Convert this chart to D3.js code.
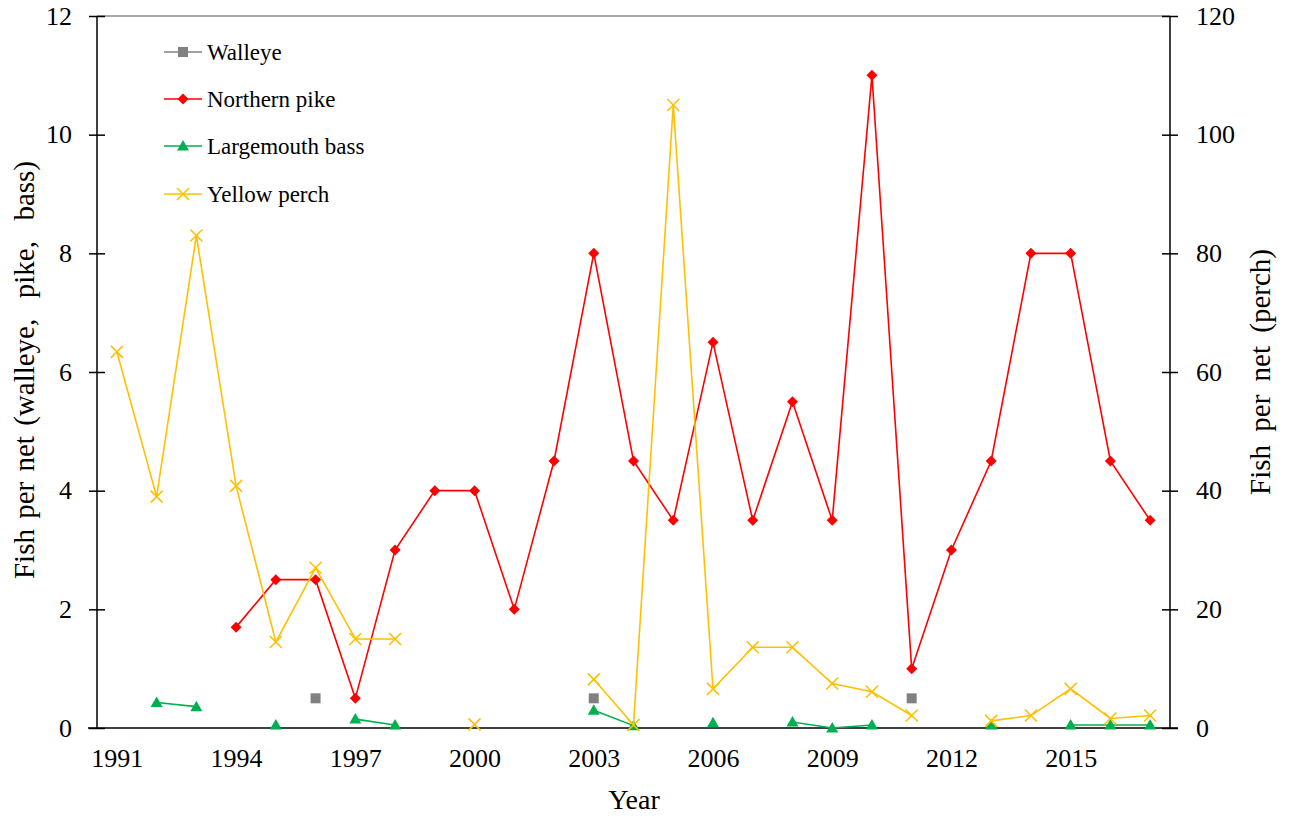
<!DOCTYPE html>
<html>
<head>
<meta charset="utf-8">
<script src="https://cdn.jsdelivr.net/npm/d3@7/dist/d3.min.js"></script>
<style>
  html, body { margin: 0; padding: 0; background: #fff; }
  svg { display: block; }
  svg text { font-family: "Times New Roman", "Liberation Serif", serif !important; fill: #000; }
</style>
</head>
<body>
<svg id="chart" width="1293" height="816" font-family="'Times New Roman', 'Liberation Serif', serif"></svg>
<script>
// ---- data ----
const years = d3.range(1991, 2018);
const xTickYears = [1991, 1994, 1997, 2000, 2003, 2006, 2009, 2012, 2015];
const leftTicks = [0, 2, 4, 6, 8, 10, 12];
const rightTicks = [0, 20, 40, 60, 80, 100, 120];
//               1991  1992  1993  1994  1995  1996  1997  1998  1999  2000  2001  2002  2003  2004  2005  2006  2007  2008  2009  2010  2011  2012  2013  2014  2015  2016  2017
const walleye = [null, null, null, null, null, 0.5,  null, null, null, null, null, null, 0.5,  null, null, null, null, null, null, null, 0.5,  null, null, null, null, null, null];
const pike    = [null, null, null, 1.7,  2.5,  2.5,  0.5,  3.0,  4.0,  4.0,  2.0,  4.5,  8.0,  4.5,  3.5,  6.5,  3.5,  5.5,  3.5,  11.0, 1.0,  3.0,  4.5,  8.0,  8.0,  4.5,  3.5];
const bass    = [null, 0.43, 0.36, null, 0.05, null, 0.15, 0.05, null, null, null, null, 0.3,  0.04, null, 0.09, null, 0.1,  0.0,  0.05, null, null, 0.05, null, 0.05, 0.05, 0.05];
const perch   = [63.4, 39.0, 83.0, 40.8, 14.5, 27.0, 15.0, 15.0, null, 0.6,  null, null, 8.2,  0.5,  105,  6.6,  13.6, 13.6, 7.5,  6.1,  2.1,  null, 1.2,  2.1,  6.6,  1.6,  2.1];
const seriesNames = ["Walleye", "Northern pike", "Largemouth bass", "Yellow perch"];

// ---- layout ----
const FONT = "'Times New Roman', 'Liberation Serif', serif";
const svg = d3.select("#chart");
const L = 97, R = 1170, T = 16, B = 728;
const x = d3.scaleLinear().domain([1990.5, 2017.5]).range([L, R]);
const yL = d3.scaleLinear().domain([0, 12]).range([B, T]);
const yR = d3.scaleLinear().domain([0, 120]).range([B, T]);

const series = [
  { name: seriesNames[0], values: walleye, color: "#808080", scale: yL, marker: "square" },
  { name: seriesNames[1], values: pike,    color: "#FF0000", scale: yL, marker: "diamond" },
  { name: seriesNames[2], values: bass,    color: "#00B050", scale: yL, marker: "triangle" },
  { name: seriesNames[3], values: perch,   color: "#FFC000", scale: yR, marker: "x" }
];

// top border
svg.append("line").attr("x1", L).attr("x2", R).attr("y1", T).attr("y2", T)
  .attr("stroke", "#8c8c8c").attr("stroke-width", 1.5);

function styleAxis(g) {
  g.attr("font-family", FONT);
  g.selectAll(".tick text").attr("font-family", FONT).style("font-size", "26px");
}

// left axis
const gL = svg.append("g").attr("transform", `translate(${L},0)`)
  .call(d3.axisLeft(yL).tickValues(leftTicks).tickFormat(d3.format("d")).tickSize(8).tickPadding(17));
gL.select(".domain").attr("stroke", "#000").attr("stroke-width", 1.5).attr("d", `M0,${T}V${B}`);
gL.selectAll(".tick line").attr("x1", -8).attr("x2", 8).attr("stroke", "#000").attr("stroke-width", 1.5);
styleAxis(gL);

// right axis
const gR = svg.append("g").attr("transform", `translate(${R},0)`)
  .call(d3.axisRight(yR).tickValues(rightTicks).tickFormat(d3.format("d")).tickSize(8).tickPadding(18));
gR.select(".domain").attr("stroke", "#000").attr("stroke-width", 1.5).attr("d", `M0,${T}V${B}`);
gR.selectAll(".tick line").attr("x1", -8).attr("x2", 8).attr("stroke", "#000").attr("stroke-width", 1.5);
styleAxis(gR);

// bottom axis
const gB = svg.append("g").attr("transform", `translate(0,${B})`)
  .call(d3.axisBottom(x).tickValues(xTickYears).tickFormat(d3.format("d")).tickSize(0).tickPadding(21));
gB.select(".domain").attr("stroke", "#000").attr("stroke-width", 1.5).attr("d", `M${L - 9},0H${R + 8}`);
styleAxis(gB);

// axis titles
svg.append("text").attr("transform", `translate(34,370) rotate(-90)`)
  .attr("text-anchor", "middle").attr("font-family", FONT).style("font-size", "29px")
  .style("word-spacing", "3px")
  .text("Fish per net (walleye,\u00A0 pike,\u00A0 bass)");
svg.append("text").attr("transform", `translate(1270,372) rotate(-90)`)
  .attr("text-anchor", "middle").attr("font-family", FONT).style("font-size", "29px").style("word-spacing", "6px")
  .text("Fish per net (perch)");
svg.append("text").attr("x", 634).attr("y", 809).attr("text-anchor", "middle")
  .attr("font-family", FONT).style("font-size", "28px").text("Year");

// markers
function drawMarker(g, type, color, cx, cy) {
  if (type === "square") {
    g.append("rect").attr("x", cx - 5).attr("y", cy - 5).attr("width", 10).attr("height", 10).attr("fill", color);
  } else if (type === "diamond") {
    g.append("path").attr("d", `M${cx},${cy - 5.5}L${cx + 5.5},${cy}L${cx},${cy + 5.5}L${cx - 5.5},${cy}Z`).attr("fill", color);
  } else if (type === "triangle") {
    g.append("path").attr("d", `M${cx},${cy - 6}L${cx + 6},${cy + 4.5}L${cx - 6},${cy + 4.5}Z`).attr("fill", color);
  } else if (type === "x") {
    g.append("path").attr("d", `M${cx - 6},${cy - 6}L${cx + 6},${cy + 6}M${cx - 6},${cy + 6}L${cx + 6},${cy - 6}`)
      .attr("stroke", color).attr("stroke-width", 1.6).attr("fill", "none");
  }
}

series.forEach(s => {
  const pts = years.map((yr, i) => ({ yr, v: s.values[i] }));
  const line = d3.line().defined(d => d.v !== null).x(d => x(d.yr)).y(d => s.scale(d.v));
  const g = svg.append("g");
  g.append("path").datum(pts).attr("d", line).attr("fill", "none")
    .attr("stroke", s.color).attr("stroke-width", 1.6);
  pts.filter(d => d.v !== null).forEach(d => drawMarker(g, s.marker, s.color, x(d.yr), s.scale(d.v)));
});

// legend
const legY = [52, 99, 146, 194];
series.forEach((s, i) => {
  const g = svg.append("g");
  g.append("line").attr("x1", 164).attr("x2", 202).attr("y1", legY[i]).attr("y2", legY[i])
    .attr("stroke", s.color).attr("stroke-width", 1.6);
  drawMarker(g, s.marker, s.color, 183, legY[i]);
  g.append("text").attr("x", 207).attr("y", legY[i]).attr("dy", "0.33em")
    .attr("font-family", FONT).style("font-size", "23px").text(s.name);
});
</script>
</body>
</html>
